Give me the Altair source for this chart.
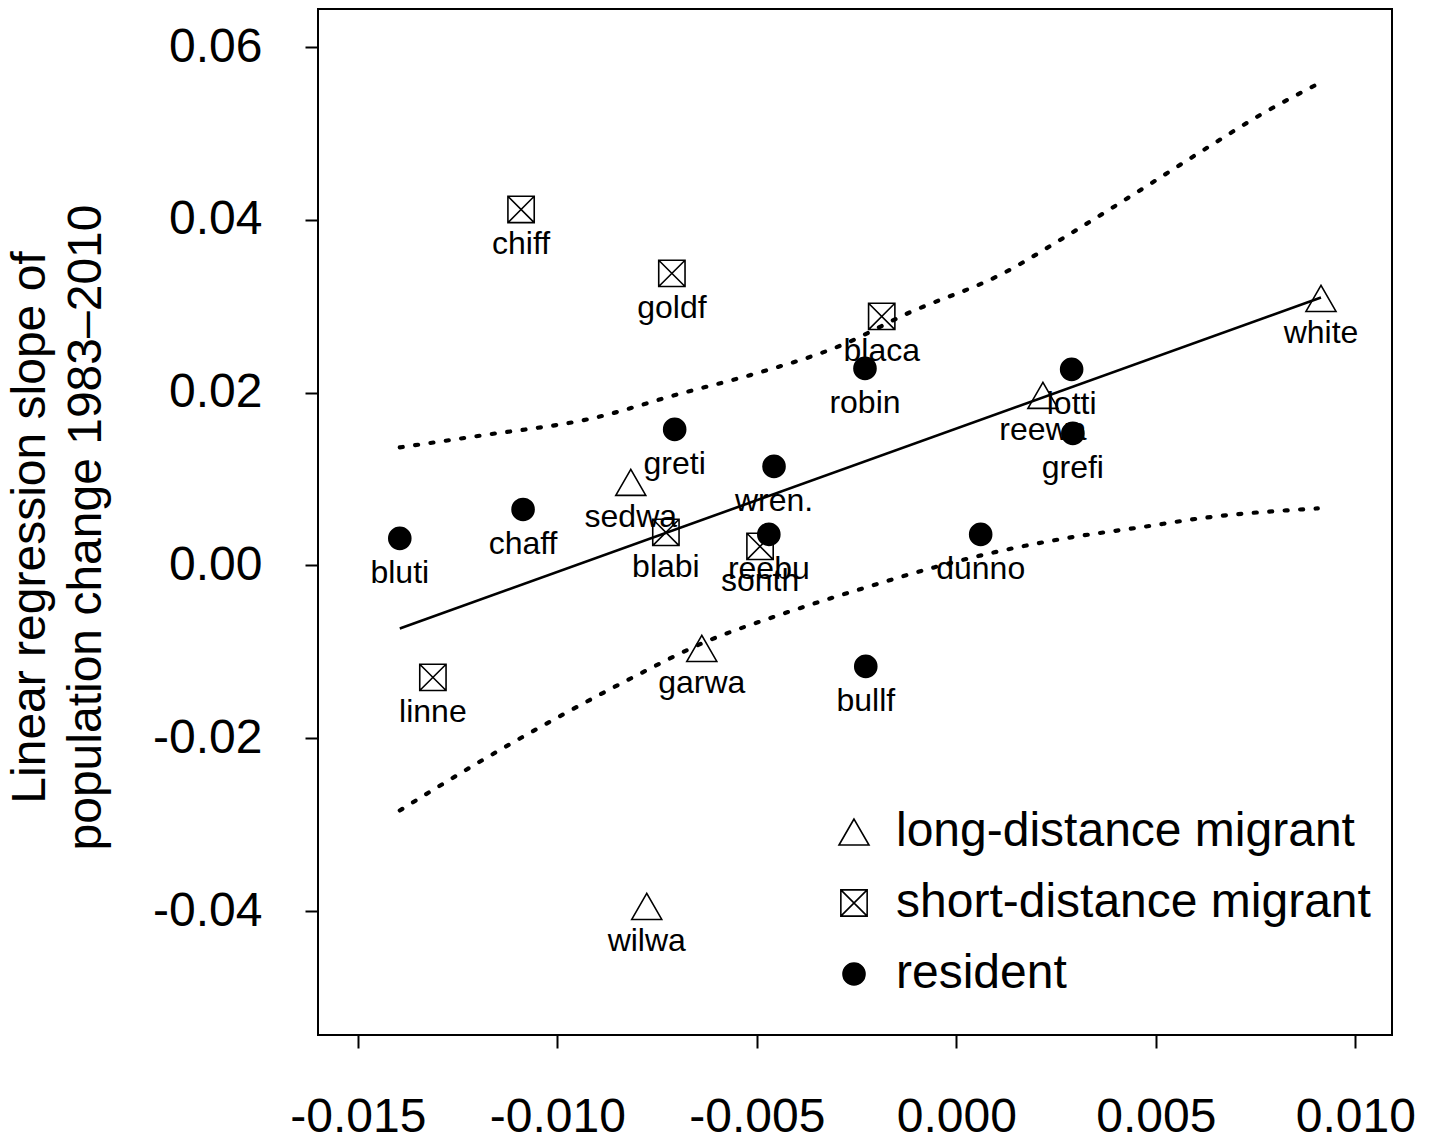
import altair as alt
import pandas as pd

# ---- data ----
species = ["chiff", "goldf", "blaca", "robin", "white", "reewa", "lotti", "grefi",
           "greti", "wren.", "sedwa", "chaff", "bluti", "blabi", "reebu", "sonth",
           "dunno", "linne", "garwa", "bullf", "wilwa"]
x_vals = [-0.01091, -0.00713, -0.00187, -0.00229, 0.00914, 0.00217, 0.00289, 0.00292,
          -0.00706, -0.00457, -0.00816, -0.01086, -0.01395, -0.00728, -0.00470, -0.00492,
          0.00061, -0.01312, -0.00638, -0.00227, -0.00776]
y_vals = [0.04120, 0.03380, 0.02882, 0.02280, 0.03090, 0.01968, 0.02269, 0.01528,
          0.01574, 0.01146, 0.00961, 0.00648, 0.00313, 0.00382, 0.00359, 0.00220,
          0.00359, -0.01296, -0.00961, -0.01169, -0.03947]
L, S, R = "long-distance migrant", "short-distance migrant", "resident"
types = [S, S, S, R, L, L, R, R,
         R, R, L, R, R, S, R, S,
         R, S, L, R, L]
categories = [L, S, R]

fit_x = [-0.01395, 0.00914]
fit_y = [-0.0073, 0.0310]

band_x = [-0.01395, -0.01189, -0.00914, -0.00690, -0.00502, -0.00283, -0.00128,
          0.00117, 0.00287, 0.00460, 0.00630, 0.00768, 0.00899]
upper_y = [0.01366, 0.01505, 0.01701, 0.01991, 0.02222, 0.02558, 0.02905,
           0.03380, 0.03843, 0.04340, 0.04838, 0.05231, 0.05556]
lower_x = [-0.01395, -0.01189, -0.00981, -0.00811, -0.00638, -0.00432, -0.00227,
           -0.00056, 0.00117, 0.00287, 0.00460, 0.00630, 0.00906]
lower_y = [-0.02836, -0.02257, -0.01713, -0.01296, -0.00903, -0.00556, -0.00255,
           -0.00023, 0.00174, 0.00324, 0.00440, 0.00556, 0.00660]

x_ticks = [-0.015, -0.010, -0.005, 0.000, 0.005, 0.010]
y_ticks = [-0.04, -0.02, 0.00, 0.02, 0.04, 0.06]
y_title = ["Linear regression slope of", "population change 1983\u20132010"]

# ---- tables ----
pts = pd.DataFrame({"sp": species, "x": x_vals, "y": y_vals, "type": types})
fit = pd.DataFrame({"x": fit_x, "y": fit_y})
upper = pd.DataFrame({"x": band_x, "y": upper_y, "o": list(range(len(band_x)))})
lower = pd.DataFrame({"x": lower_x, "y": lower_y, "o": list(range(len(lower_x)))})

FONT = "Liberation Sans"
xscale = alt.Scale(domain=[-0.016, 0.01092], nice=False, zero=False)
yscale = alt.Scale(domain=[-0.05435, 0.0644], nice=False, zero=False)

xenc = alt.X("x:Q", scale=xscale, axis=alt.Axis(
    values=x_ticks, title=None, grid=False, domain=False,
    tickSize=13, tickWidth=2, tickColor="black",
    labelFont=FONT, labelFontSize=48, labelColor="black", labelPadding=45,
    labelFlush=False, labelOverlap=False,
    labelExpr="(datum.value < -1e-9 ? '-' : '') + format(abs(datum.value), '.3f')"))
yenc = alt.Y("y:Q", scale=yscale, axis=alt.Axis(
    values=y_ticks, title=y_title, grid=False, domain=False,
    tickSize=13, tickWidth=2, tickColor="black",
    labelFont=FONT, labelFontSize=48, labelColor="black", labelPadding=43,
    labelFlush=False, labelOverlap=False,
    labelExpr="(datum.value < -1e-9 ? '-' : '') + format(abs(datum.value), '.2f')",
    titleFont=FONT, titleFontSize=48, titleFontWeight="normal", titleColor="black",
    titleAngle=270, titleAlign="center", titleBaseline="middle",
    titleLineHeight=56, titleX=-288, titleY=518))

box_path = "M-1,-1H1V1H-1ZM-1,-1L1,1M-1,1L1,-1"

def make_legend():
    return alt.Legend(
        title=None, orient="none", legendX=512, legendY=799,
        labelFont=FONT, labelFontSize=48, labelColor="black", labelLimit=800,
        labelOffset=18, rowPadding=23, padding=0,
        symbolStrokeWidth=1.6)

points = alt.Chart(pts).mark_point(filled=True, strokeWidth=1.6, opacity=1).encode(
    x=xenc, y=yenc,
    shape=alt.Shape("type:N", scale=alt.Scale(domain=categories, range=["triangle-up", box_path, "circle"]),
                    legend=make_legend()),
    fill=alt.Fill("type:N", scale=alt.Scale(domain=categories, range=["transparent", "transparent", "black"]),
                  legend=make_legend()),
    stroke=alt.Stroke("type:N", scale=alt.Scale(domain=categories, range=["black", "black", "black"]),
                      legend=make_legend()),
    size=alt.Size("type:N", scale=alt.Scale(domain=categories, range=[900, 484, 484]),
                  legend=make_legend()),
)

labels = alt.Chart(pts).mark_text(font=FONT, fontSize=32, color="black", dy=45,
                                  baseline="alphabetic", align="center").encode(
    x="x:Q", y="y:Q", text="sp:N")

fit_line = alt.Chart(fit).mark_line(color="black", strokeWidth=2.6).encode(x="x:Q", y="y:Q")

dots_style = dict(color="black", strokeWidth=4.2, strokeDash=[3, 12.5], strokeCap="round",
                  interpolate="monotone")
up_line = alt.Chart(upper).mark_line(**dots_style).encode(x="x:Q", y="y:Q", order="o:Q")
lo_line = alt.Chart(lower).mark_line(**dots_style).encode(x="x:Q", y="y:Q", order="o:Q")

chart = alt.layer(up_line, lo_line, fit_line, points, labels).properties(
    width=1074, height=1026,
    background="white",
    autosize=alt.AutoSizeParams(type="none"),
    padding={"left": 310, "top": 1, "right": 32, "bottom": 105},
).configure_view(stroke="black", strokeWidth=2)

chart.save("out.html", embed_options={"renderer": "svg", "actions": False})
